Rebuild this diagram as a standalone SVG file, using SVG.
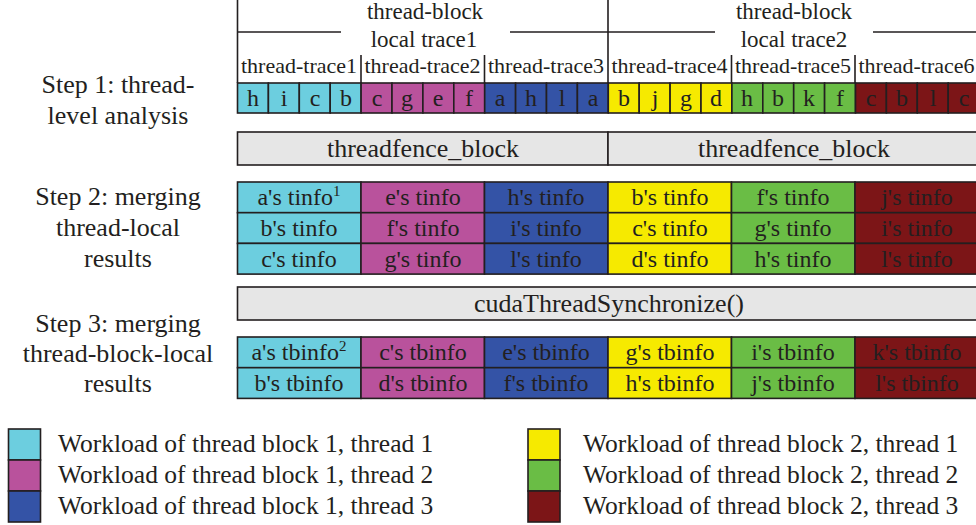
<svg xmlns="http://www.w3.org/2000/svg" width="976" height="525" viewBox="0 0 976 525" font-family="'Liberation Serif', 'DejaVu Serif', serif">
<style>
text{font-family:'Liberation Serif','DejaVu Serif',serif;fill:#231f20}
.st{font-size:26px;text-anchor:middle}
.hd{font-size:23px;text-anchor:middle}
.tt{font-size:22px;text-anchor:middle}
.c{font-size:24px;text-anchor:middle}
.bar{font-size:26px;text-anchor:middle}
.lg{font-size:25.5px}
.cell{stroke:#231f20;stroke-width:1.6}
.ln{stroke:#231f20;stroke-width:1.6;fill:none}
.t1{fill:#6ccedf}.t2{fill:#b9529c}.t3{fill:#3453a6}.t4{fill:#f6ea00}.t5{fill:#6abd45}.t6{fill:#7c1517}
.gray{fill:#e6e6e6;stroke:#231f20;stroke-width:1.6}
</style>
<g id="step-labels" font-family="Liberation Serif">
<text class="st" x="118" y="93">Step 1: thread-</text>
<text class="st" x="118" y="124">level analysis</text>
<text class="st" x="118" y="205">Step 2: merging</text>
<text class="st" x="118" y="236">thread-local</text>
<text class="st" x="118" y="267">results</text>
<text class="st" x="118" y="332">Step 3: merging</text>
<text class="st" x="118" y="362">thread-block-local</text>
<text class="st" x="118" y="392">results</text>
</g>
<g id="header">
<path class="ln" d="M237.5,0V83M608,0V83M237.5,32H341M510,32H608M608,32H715M873,32H980M361,55V83M484.5,55V83M731.5,55V83M855,55V83"/>
<text class="hd" x="425" y="19">thread-block</text>
<text class="hd" x="424" y="47">local trace1</text>
<text class="hd" x="794" y="19">thread-block</text>
<text class="hd" x="794" y="47">local trace2</text>
<text class="tt" x="299" y="73">thread-trace1</text>
<text class="tt" x="422.5" y="73">thread-trace2</text>
<text class="tt" x="546" y="73">thread-trace3</text>
<text class="tt" x="669.5" y="73">thread-trace4</text>
<text class="tt" x="793" y="73">thread-trace5</text>
<text class="tt" x="916.5" y="73">thread-trace6</text>
</g>
<g id="step1-cells">
<rect class="cell t1" x="237.5" y="83" width="30.9" height="30"/><rect class="cell t1" x="268.4" y="83" width="30.9" height="30"/><rect class="cell t1" x="299.3" y="83" width="30.9" height="30"/><rect class="cell t1" x="330.2" y="83" width="30.9" height="30"/>
<rect class="cell t2" x="361.1" y="83" width="30.9" height="30"/><rect class="cell t2" x="392" y="83" width="30.9" height="30"/><rect class="cell t2" x="422.9" y="83" width="30.9" height="30"/><rect class="cell t2" x="453.8" y="83" width="30.9" height="30"/>
<rect class="cell t3" x="484.7" y="83" width="30.9" height="30"/><rect class="cell t3" x="515.6" y="83" width="30.9" height="30"/><rect class="cell t3" x="546.5" y="83" width="30.9" height="30"/><rect class="cell t3" x="577.4" y="83" width="30.9" height="30"/>
<rect class="cell t4" x="608.3" y="83" width="30.9" height="30"/><rect class="cell t4" x="639.2" y="83" width="30.9" height="30"/><rect class="cell t4" x="670.1" y="83" width="30.9" height="30"/><rect class="cell t4" x="701" y="83" width="30.9" height="30"/>
<rect class="cell t5" x="731.9" y="83" width="30.9" height="30"/><rect class="cell t5" x="762.8" y="83" width="30.9" height="30"/><rect class="cell t5" x="793.7" y="83" width="30.9" height="30"/><rect class="cell t5" x="824.6" y="83" width="30.9" height="30"/>
<rect class="cell t6" x="855.5" y="83" width="30.9" height="30"/><rect class="cell t6" x="886.4" y="83" width="30.9" height="30"/><rect class="cell t6" x="917.3" y="83" width="30.9" height="30"/><rect class="cell t6" x="948.2" y="83" width="30.9" height="30"/>
<text class="c" x="253" y="106">h</text><text class="c" x="284" y="106">i</text><text class="c" x="315" y="106">c</text><text class="c" x="346" y="106">b</text>
<text class="c" x="377" y="106">c</text><text class="c" x="407" y="106">g</text><text class="c" x="438" y="106">e</text><text class="c" x="469" y="106">f</text>
<text class="c" x="500" y="106">a</text><text class="c" x="531" y="106">h</text><text class="c" x="562" y="106">l</text><text class="c" x="593" y="106">a</text>
<text class="c" x="624" y="106">b</text><text class="c" x="655" y="106">j</text><text class="c" x="686" y="106">g</text><text class="c" x="716" y="106">d</text>
<text class="c" x="747" y="106">h</text><text class="c" x="778" y="106">b</text><text class="c" x="809" y="106">k</text><text class="c" x="840" y="106">f</text>
<text class="c" x="871" y="106">c</text><text class="c" x="902" y="106">b</text><text class="c" x="933" y="106">l</text><text class="c" x="964" y="106">c</text>
</g>
<g id="threadfence1">
<rect class="gray" x="237.5" y="132" width="370.5" height="33"/>
<text class="bar" x="423" y="157">threadfence_block</text>
</g>
<g id="threadfence2">
<rect class="gray" x="608" y="132" width="372" height="33"/>
<text class="bar" x="794" y="157">threadfence_block</text>
</g>
<g id="step2-table">
<rect class="cell t1" x="237.5" y="182" width="123.5" height="30.7"/><rect class="cell t1" x="237.5" y="212.7" width="123.5" height="30.7"/><rect class="cell t1" x="237.5" y="243.4" width="123.5" height="30.7"/>
<rect class="cell t2" x="361" y="182" width="123.5" height="30.7"/><rect class="cell t2" x="361" y="212.7" width="123.5" height="30.7"/><rect class="cell t2" x="361" y="243.4" width="123.5" height="30.7"/>
<rect class="cell t3" x="484.5" y="182" width="123.5" height="30.7"/><rect class="cell t3" x="484.5" y="212.7" width="123.5" height="30.7"/><rect class="cell t3" x="484.5" y="243.4" width="123.5" height="30.7"/>
<rect class="cell t4" x="608" y="182" width="123.5" height="30.7"/><rect class="cell t4" x="608" y="212.7" width="123.5" height="30.7"/><rect class="cell t4" x="608" y="243.4" width="123.5" height="30.7"/>
<rect class="cell t5" x="731.5" y="182" width="123.5" height="30.7"/><rect class="cell t5" x="731.5" y="212.7" width="123.5" height="30.7"/><rect class="cell t5" x="731.5" y="243.4" width="123.5" height="30.7"/>
<rect class="cell t6" x="855" y="182" width="125" height="30.7"/><rect class="cell t6" x="855" y="212.7" width="125" height="30.7"/><rect class="cell t6" x="855" y="243.4" width="125" height="30.7"/>
<text class="c" x="299" y="205">a's tinfo<tspan font-size="15" dy="-9">1</tspan></text>
<text class="c" x="299" y="236">b's tinfo</text><text class="c" x="299" y="266.5">c's tinfo</text>
<text class="c" x="423" y="205">e's tinfo</text><text class="c" x="423" y="236">f's tinfo</text><text class="c" x="423" y="266.5">g's tinfo</text>
<text class="c" x="546" y="205">h's tinfo</text><text class="c" x="546" y="236">i's tinfo</text><text class="c" x="546" y="266.5">l's tinfo</text>
<text class="c" x="670" y="205">b's tinfo</text><text class="c" x="670" y="236">c's tinfo</text><text class="c" x="670" y="266.5">d's tinfo</text>
<text class="c" x="793" y="205">f's tinfo</text><text class="c" x="793" y="236">g's tinfo</text><text class="c" x="793" y="266.5">h's tinfo</text>
<text class="c" x="917" y="205">j's tinfo</text><text class="c" x="917" y="236">i's tinfo</text><text class="c" x="917" y="266.5">l's tinfo</text>
</g>
<g id="cudaThreadSynchronize">
<rect class="gray" x="237.5" y="287" width="742.5" height="33"/>
<text class="bar" x="609" y="312">cudaThreadSynchronize()</text>
</g>
<g id="step3-table">
<rect class="cell t1" x="237.5" y="337" width="123.5" height="30.7"/><rect class="cell t1" x="237.5" y="367.7" width="123.5" height="30.7"/>
<rect class="cell t2" x="361" y="337" width="123.5" height="30.7"/><rect class="cell t2" x="361" y="367.7" width="123.5" height="30.7"/>
<rect class="cell t3" x="484.5" y="337" width="123.5" height="30.7"/><rect class="cell t3" x="484.5" y="367.7" width="123.5" height="30.7"/>
<rect class="cell t4" x="608" y="337" width="123.5" height="30.7"/><rect class="cell t4" x="608" y="367.7" width="123.5" height="30.7"/>
<rect class="cell t5" x="731.5" y="337" width="123.5" height="30.7"/><rect class="cell t5" x="731.5" y="367.7" width="123.5" height="30.7"/>
<rect class="cell t6" x="855" y="337" width="125" height="30.7"/><rect class="cell t6" x="855" y="367.7" width="125" height="30.7"/>
<text class="c" x="299" y="360">a's tbinfo<tspan font-size="15" dy="-9">2</tspan></text>
<text class="c" x="299" y="391">b's tbinfo</text>
<text class="c" x="423" y="360">c's tbinfo</text><text class="c" x="423" y="391">d's tbinfo</text>
<text class="c" x="546" y="360">e's tbinfo</text><text class="c" x="546" y="391">f's tbinfo</text>
<text class="c" x="670" y="360">g's tbinfo</text><text class="c" x="670" y="391">h's tbinfo</text>
<text class="c" x="793" y="360">i's tbinfo</text><text class="c" x="793" y="391">j's tbinfo</text>
<text class="c" x="917" y="360">k's tbinfo</text><text class="c" x="917" y="391">l's tbinfo</text>
</g>
<g id="legend">
<rect class="cell t1" x="8.5" y="429" width="32" height="31"/>
<rect class="cell t2" x="8.5" y="460" width="32" height="31"/>
<rect class="cell t3" x="8.5" y="491" width="32" height="31"/>
<rect class="cell t4" x="528" y="429" width="32" height="31"/>
<rect class="cell t5" x="528" y="460" width="32" height="31"/>
<rect class="cell t6" x="528" y="491" width="32" height="31"/>
<text class="lg" x="58" y="452">Workload of thread block 1, thread 1</text>
<text class="lg" x="58" y="483">Workload of thread block 1, thread 2</text>
<text class="lg" x="58" y="513.5">Workload of thread block 1, thread 3</text>
<text class="lg" x="583" y="452">Workload of thread block 2, thread 1</text>
<text class="lg" x="583" y="483">Workload of thread block 2, thread 2</text>
<text class="lg" x="583" y="513.5">Workload of thread block 2, thread 3</text>
</g>
</svg>
